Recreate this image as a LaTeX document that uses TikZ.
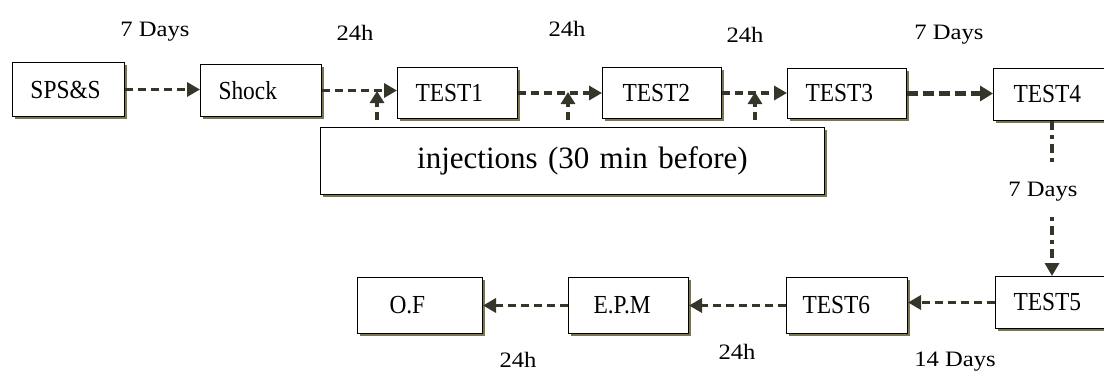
\documentclass[tikz,border=0pt]{standalone}
\usepackage{fontspec}
\setmainfont{Liberation Serif}
\newfontfamily\lblfont{Liberation Serif}[FakeStretch=1.12]
\newfontfamily\boxfont{Liberation Serif}[FakeStretch=0.9]
\usetikzlibrary{arrows.meta,shadows}
\definecolor{lc}{HTML}{35352A}
\definecolor{shc}{HTML}{7A7750}
\begin{document}
\begin{tikzpicture}[x=1pt,y=-1pt,
  boxst/.style={draw=black, line width=1pt, fill=white,
    drop shadow={shadow xshift=2pt, shadow yshift=-2pt, fill=shc, opacity=1},
    anchor=north west, align=left, inner ysep=0pt,
    font=\boxfont\fontsize{26}{28}\selectfont},
  lbl/.style={font=\lblfont\fontsize{22}{24}\selectfont, inner sep=1pt},
  conn/.style={draw=lc, line width=3.5pt, dash pattern=on 8pt off 5pt,
    -{Triangle[length=13pt,width=14pt]}},
  thickconn/.style={draw=lc, line width=5pt, dash pattern=on 11pt off 5pt,
    -{Triangle[length=13pt,width=15pt]}},
  vconn/.style={draw=lc, line width=4pt, dash pattern=on 9pt off 5pt on 4pt off 5pt},
  upconn/.style={draw=lc, line width=3.5pt, dash pattern=on 8pt off 5pt,
    -{Triangle[length=12pt,width=14pt]}, shorten <=7pt}]
\useasboundingbox (0,0) rectangle (1104,372);
\fill[white] (0,0) rectangle (1104,372);

% top row
\node[boxst, minimum height=54pt, text width=76pt, inner xsep=18pt] (sps) at (12,62) {SPS\&S};
\node[boxst, minimum height=52pt, text width=85pt, inner xsep=18pt] (shock) at (200,64) {Shock};
\node[boxst, minimum height=51pt, text width=84pt, inner xsep=18pt] (t1) at (397,67) {TEST1};
\node[boxst, minimum height=51pt, text width=79pt, inner xsep=20pt] (t2) at (602,67) {TEST2};
\node[boxst, minimum height=50pt, text width=83pt, inner xsep=18pt] (t3) at (787,68) {TEST3};
\node[boxst, minimum height=52pt, text width=80pt, inner xsep=20pt] (t4) at (993,68) {TEST4};

% injections
\node[boxst, minimum height=67pt, text width=384pt, inner xsep=60pt,
  font=\fontsize{31}{34}\selectfont, align=center] (inj) at (320,127) {\hspace*{20pt}injections (30 min before)};

% bottom row
\node[boxst, minimum height=52pt, text width=82pt, inner xsep=18pt] (t5) at (995,276) {TEST5};
\node[boxst, minimum height=56pt, text width=89pt, inner xsep=16pt] (t6) at (786,277) {TEST6};
\node[boxst, minimum height=56pt, text width=70pt, inner xsep=25pt] (epm) at (568,277) {E.P.M};
\node[boxst, minimum height=56pt, text width=61pt, inner xsep=32pt] (of) at (357,277) {O.F};

% top connectors
\draw[conn] (sps.east) -- (sps.east -| shock.west);
\draw[conn] (shock.east) -- (shock.east -| t1.west);
\draw[conn] (t1.east) -- (t1.east -| t2.west);
\draw[conn] (t2.east) -- (t2.east -| t3.west);
\draw[thickconn] (t3.east) -- (t3.east -| t4.west);

% injection arrows
\coordinate (u1) at (377,91);
\coordinate (u2) at (568,92);
\coordinate (u3) at (755,92);
\draw[upconn] (u1 |- inj.north) -- (u1);
\draw[upconn] (u2 |- inj.north) -- (u2);
\draw[upconn] (u3 |- inj.north) -- (u3);

% top labels
\node[lbl] (l1) at (155,32) {7 Days};
\node[lbl] (l2) at (355,33) {24h};
\node[lbl] (l3) at (567,29) {24h};
\node[lbl] (l4) at (745,35) {24h};
\node[lbl] (l5) at (949,35) {7 Days};

% vertical connector
\coordinate (vx) at (1052,0);
\node[lbl] (l6) at (1043,192) {7 Days};
\draw[vconn] (vx |- t4.south) -- (vx |- 0,164);
\draw[conn, dash pattern=on 4pt off 5pt on 9pt off 5pt] (vx |- 0,217) -- (vx |- t5.north);

% bottom connectors
\draw[conn] (t5.west) -- (t5.west -| t6.east);
\draw[conn] (t6.west) -- (t6.west -| epm.east);
\draw[conn] (epm.west) -- (epm.west -| of.east);

% bottom labels
\node[lbl] (l7) at (518,360) {24h};
\node[lbl] (l8) at (737,352) {24h};
\node[lbl] (l9) at (955,362) {14 Days};
\end{tikzpicture}
\end{document}
